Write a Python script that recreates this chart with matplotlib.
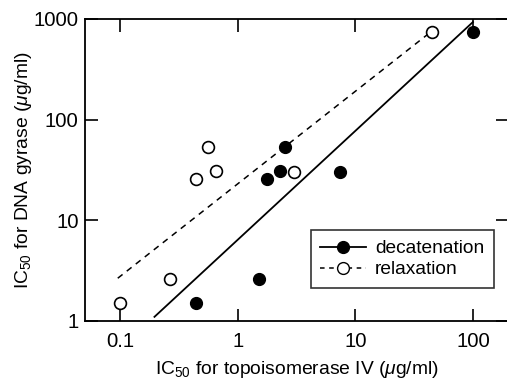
import numpy as np
import matplotlib.pyplot as plt

plt.rcParams['font.family'] = ['Liberation Sans', 'DejaVu Sans']
plt.rcParams['mathtext.fontset'] = 'custom'
plt.rcParams['mathtext.rm'] = 'Liberation Sans'
plt.rcParams['mathtext.it'] = 'Liberation Sans:italic'

# IC50 values (ug/ml): x = topoisomerase IV, y = DNA gyrase
deca_x = [0.44, 1.51, 1.77, 2.28, 2.52, 7.4, 100]
deca_y = [1.51, 2.61, 25.7, 30.9, 53.4, 30.2, 741]
relax_x = [0.1, 0.267, 0.444, 0.552, 0.645, 3.0, 44.5]
relax_y = [1.51, 2.61, 25.7, 53.4, 30.9, 30.2, 741]

# regression lines (end points)
deca_fit_x = [0.195, 100]
deca_fit_y = [1.1, 933]
relax_fit_x = [0.095, 42.2]
relax_fit_y = [2.66, 719]

fig = plt.figure(figsize=(5.07, 3.83), dpi=100)
ax = fig.add_axes([85/507, 62/383, 423.3/507, 302/383])

ax.plot(deca_fit_x, deca_fit_y, color='black', linewidth=1.3)
ax.plot(relax_fit_x, relax_fit_y, color='black', linewidth=1.1, linestyle=(0, (4, 3.5)))
ax.plot(deca_x, deca_y, 'o', color='black', markersize=8.5, linestyle='none')
ax.plot(relax_x, relax_y, 'o', markerfacecolor='white', markeredgecolor='black',
        markeredgewidth=1.2, markersize=8.5, linestyle='none')

# legend handles
h1, = ax.plot([], [], color='black', linewidth=1.3, marker='o', markersize=8.5)
h2, = ax.plot([], [], color='black', linewidth=1.1, linestyle=(0, (3, 3)),
              marker='o', markerfacecolor='white', markeredgecolor='black', markersize=8.5)
leg = ax.legend([h1, h2], ['decatenation', 'relaxation'], loc='lower right',
                bbox_to_anchor=(0.966, 0.109), borderaxespad=0, fontsize=13.8,
                frameon=True, fancybox=False, edgecolor='black', handlelength=2.4,
                handletextpad=0.45, borderpad=0.5, labelspacing=0.2)
leg.get_frame().set_linewidth(1.2)

ax.set_xscale('log')
ax.set_yscale('log')
ax.set_xlim(0.05, 200)
ax.set_ylim(1, 1000)
ax.set_xticks([0.1, 1, 10, 100])
ax.set_xticklabels(['0.1', '1', '10', '100'])
ax.set_yticks([1, 10, 100, 1000])
ax.set_yticklabels(['1', '10', '100', '1000'])
ax.minorticks_off()
ax.tick_params(direction='in', length=9, width=1.2, labelsize=14.7,
               top=True, right=True, pad=8)
ax.tick_params(axis='y', pad=4.5)
for s in ax.spines.values():
    s.set_linewidth(1.3)

ax.set_xlabel(r'IC$_{\mathregular{50}}$ for topoisomerase IV ($\mathit{\mu}$g/ml)', fontsize=13.9, labelpad=6)
ax.set_ylabel(r'IC$_{\mathregular{50}}$ for DNA gyrase ($\mathit{\mu}$g/ml)', fontsize=13.9, labelpad=0)

fig.savefig('out.png', dpi=100)
